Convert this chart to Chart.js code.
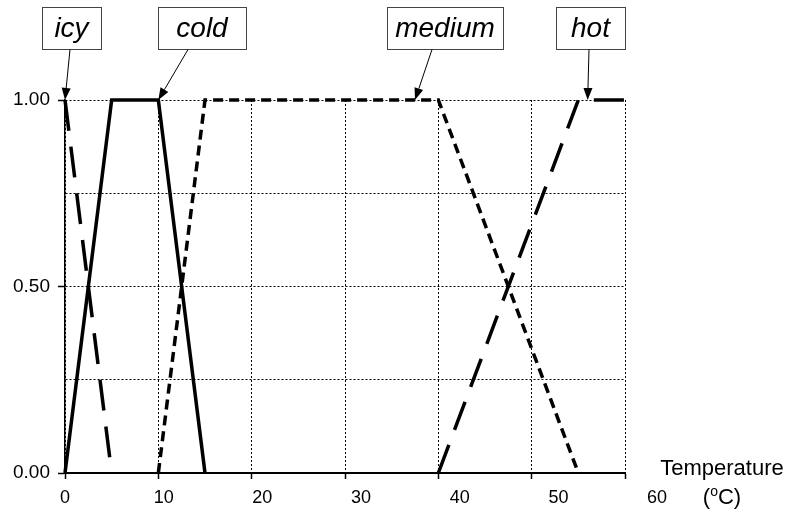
<!DOCTYPE html>
<html>
<head>
<meta charset="utf-8">
<script src="https://cdn.jsdelivr.net/npm/chart.js@4.4.1/dist/chart.umd.min.js"></script>
<style>
    body { margin: 0; background: #fff; }
    canvas { display: block; }
</style>
</head>
<body>
<canvas id="membershipChart" width="794" height="518"></canvas>
<script>
// membership functions: temperature (°C) -> degree of membership
const icyX = [0, 5];
const icyY = [1, 0];
const coldX = [0, 5, 10, 15];
const coldY = [0, 1, 1, 0];
const mediumX = [10, 15, 40, 55];
const mediumY = [0, 1, 1, 0];
const hotX = [40, 55, 60];
const hotY = [0, 1, 1];

const xTicks = [0, 10, 20, 30, 40, 50, 60];
const yLabelled = [0, 0.5, 1];

// callouts above the plot and the temperature each arrow points at
const calloutNames = ['icy', 'cold', 'medium', 'hot'];
const calloutTargets = [0, 10, 37.5, 56];

// box geometry for the callouts (px)
const calloutBoxes = [
    { left: 42, width: 59, arrowFrom: 70 },
    { left: 158, width: 88, arrowFrom: 188 },
    { left: 387, width: 116, arrowFrom: 432 },
    { left: 556, width: 69, arrowFrom: 589 }
];

// the number row under the axis is spread a little wider than the grid
const numberRowMax = 56.75;

const FONT = '"Liberation Sans", Arial, sans-serif';

function points(xs, ys) {
    return xs.map((x, i) => ({ x: x, y: ys[i] }));
}

const calloutPlugin = {
    id: 'callouts',
    afterDraw(chart) {
        const { ctx, scales } = chart;
        ctx.save();
        calloutNames.forEach((name, i) => {
            const box = calloutBoxes[i];
            ctx.fillStyle = '#fff';
            ctx.fillRect(box.left + 0.5, 7.5, box.width, 42);
            ctx.strokeStyle = '#444';
            ctx.lineWidth = 1;
            ctx.strokeRect(box.left + 0.5, 7.5, box.width, 42);

            ctx.fillStyle = '#000';
            ctx.font = 'italic 28px ' + FONT;
            ctx.textAlign = 'center';
            ctx.textBaseline = 'middle';
            ctx.fillText(name, box.left + box.width / 2, 29);

            // arrow down to the curve at membership 1
            const tx = scales.x.getPixelForValue(calloutTargets[i]);
            const ty = scales.y.getPixelForValue(1);
            const sx = box.arrowFrom, sy = 49.5;
            const ang = Math.atan2(ty - sy, tx - sx);
            const head = 12, half = 4.5;
            ctx.strokeStyle = '#000';
            ctx.beginPath();
            ctx.moveTo(sx, sy);
            ctx.lineTo(tx - Math.cos(ang) * head, ty - Math.sin(ang) * head);
            ctx.stroke();
            ctx.beginPath();
            ctx.moveTo(tx, ty);
            ctx.lineTo(tx - Math.cos(ang) * head - Math.sin(ang) * half,
                       ty - Math.sin(ang) * head + Math.cos(ang) * half);
            ctx.lineTo(tx - Math.cos(ang) * head + Math.sin(ang) * half,
                       ty - Math.sin(ang) * head - Math.cos(ang) * half);
            ctx.closePath();
            ctx.fill();
        });

        // axis caption to the right of the plot
        const area = chart.chartArea;
        const cx = area.right + 97;
        ctx.fillStyle = '#000';
        ctx.textBaseline = 'middle';
        ctx.textAlign = 'center';
        ctx.font = '22px ' + FONT;
        ctx.fillText('Temperature', cx, 469);

        const big = '22px ' + FONT, small = '14px ' + FONT;
        ctx.font = big;
        const w1 = ctx.measureText('(').width;
        const w3 = ctx.measureText('C)').width;
        ctx.font = small;
        const w2 = ctx.measureText('o').width;
        let px = cx - (w1 + w2 + w3) / 2;
        ctx.textAlign = 'left';
        ctx.font = big;
        ctx.fillText('(', px, 498);
        px += w1;
        ctx.font = small;
        ctx.fillText('o', px, 492);
        px += w2;
        ctx.font = big;
        ctx.fillText('C)', px, 498);
        ctx.restore();
    }
};

const lineStyle = {
    borderColor: '#000',
    borderWidth: 3.5,
    pointRadius: 0,
    tension: 0,
    fill: false,
    clip: false
};

new Chart(document.getElementById('membershipChart'), {
    type: 'line',
    data: {
        datasets: [
            Object.assign({ label: 'icy', data: points(icyX, icyY), borderDash: [31, 16] }, lineStyle),
            Object.assign({ label: 'cold', data: points(coldX, coldY) }, lineStyle),
            Object.assign({ label: 'medium', data: points(mediumX, mediumY), borderDash: [10, 6] }, lineStyle),
            Object.assign({ label: 'hot', data: points(hotX, hotY), borderDash: [30, 16] }, lineStyle)
        ]
    },
    options: {
        responsive: false,
        animation: false,
        layout: { padding: { top: 100, right: 169, left: 0, bottom: 0 } },
        plugins: {
            legend: { display: false },
            tooltip: { enabled: false }
        },
        scales: {
            x: {
                type: 'linear',
                min: 0,
                max: 60,
                ticks: { stepSize: 10, display: false },
                grid: { color: '#000', lineWidth: 1, tickLength: 6, tickColor: '#000', tickWidth: 1.5 },
                border: { color: '#000', width: 2, dash: [2, 2] }
            },
            xNumbers: {
                type: 'linear',
                position: 'bottom',
                min: 0,
                max: numberRowMax,
                bounds: 'data',
                afterBuildTicks: s => { s.ticks = xTicks.map(v => ({ value: v })); },
                afterFit: s => { s.height = 39; },
                grid: { display: false, drawTicks: false },
                border: { display: false },
                ticks: {
                    autoSkip: false,
                    maxRotation: 0,
                    padding: 8,
                    color: '#000',
                    font: { family: FONT, size: 18 },
                    callback: v => String(v)
                }
            },
            y: {
                min: 0,
                max: 1,
                afterFit: s => { s.width = 65; },
                ticks: {
                    stepSize: 0.25,
                    padding: 8,
                    color: '#000',
                    font: { family: FONT, size: 19 },
                    callback: v => yLabelled.includes(v) ? v.toFixed(2) : ''
                },
                grid: {
                    color: '#000',
                    lineWidth: 1,
                    tickLength: 7,
                    tickWidth: 1.5,
                    tickColor: c => (c.tick && yLabelled.includes(c.tick.value)) ? '#000' : 'rgba(0,0,0,0)'
                },
                border: { color: '#000', width: 1.5, dash: [2, 2] }
            }
        }
    },
    plugins: [calloutPlugin]
});
</script>
</body>
</html>
